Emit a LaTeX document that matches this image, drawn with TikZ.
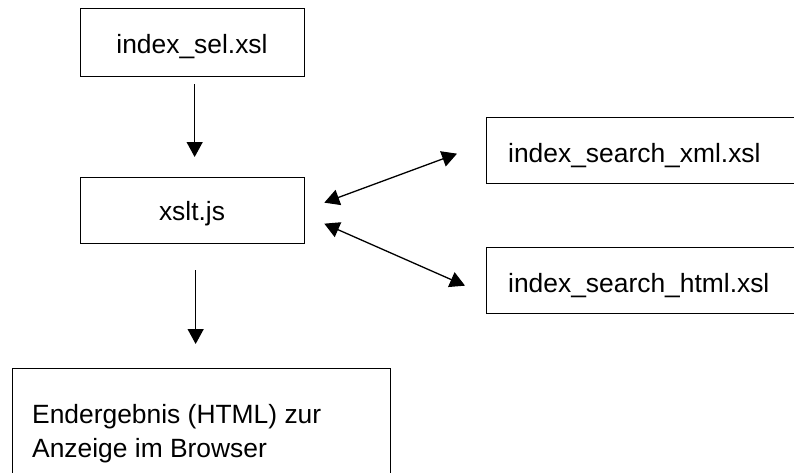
\documentclass[tikz,border=0pt]{standalone}
\usepackage{fontspec}
\setmainfont{Liberation Sans}
\usetikzlibrary{arrows.meta,calc}
\begin{document}
\begin{tikzpicture}[x=1pt,y=-1pt,
  box/.style={draw=black,line width=1.3pt,rectangle,inner sep=0pt,anchor=north west},
  lbl/.style={inner sep=0pt,font=\fontsize{26.4pt}{34pt}\selectfont},
  conn/.style={line width=1.3pt,-{Triangle[length=15pt,width=16pt]}},
  dconn/.style={line width=1.3pt,{Triangle[length=15pt,width=16pt]}-{Triangle[length=15pt,width=16pt]}}]
\useasboundingbox (0,0) rectangle (794,472);
\clip (0,0) rectangle (794,472);
\fill[white] (0,0) rectangle (794,472);
% boxes
\node[box,minimum width=224pt,minimum height=68pt] (sel) at (80,8) {};
\node[box,minimum width=224pt,minimum height=66pt] (xslt) at (80,177) {};
\node[box,minimum width=378pt,minimum height=130pt] (res) at (12,368) {};
\node[box,minimum width=340pt,minimum height=66pt] (xml) at (486,117) {};
\node[box,minimum width=340pt,minimum height=66pt] (html) at (486,247) {};
% texts
\node[lbl,anchor=base] (tsel) at (192,53) {index\_sel.xsl};
\node[lbl,anchor=base] (txslt) at (192,220) {xslt.js};
\node[lbl,anchor=base west] (txml) at (508,162) {index\_search\_xml.xsl};
\node[lbl,anchor=base west] (thtml) at (508,292) {index\_search\_html.xsl};
\node[lbl,anchor=base west] (tres1) at (32,423) {Endergebnis (HTML) zur};
\node[lbl,anchor=base west] (tres2) at (32,457) {Anzeige im Browser};
% connectors
\draw[conn,shorten <=7pt,shorten >=20pt] ([xshift=2pt]sel.south) -- ([xshift=2pt]xslt.north);
\draw[conn,shorten <=26pt,shorten >=24pt] ([xshift=3pt]xslt.south) -- ([xshift=3pt]xslt.south |- res.north);
\draw[dconn] ($(xslt.east)+(19,-8)$) -- ($(xml.west)+(-29,3)$);
\draw[dconn] ($(xslt.east)+(19,13)$) -- ($(html.west)+(-21,5)$);
\end{tikzpicture}
\end{document}
